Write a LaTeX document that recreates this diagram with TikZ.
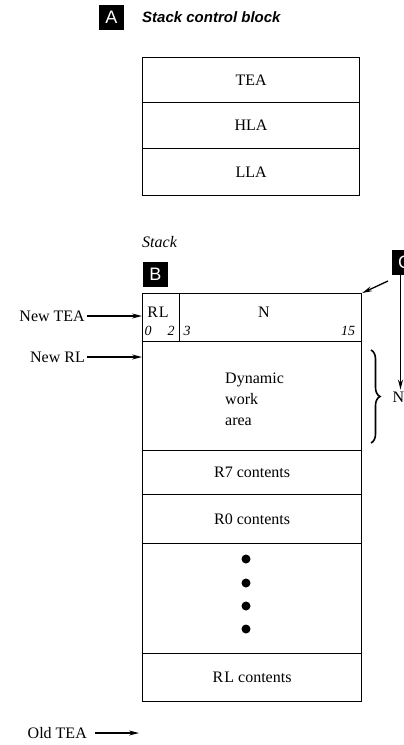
\documentclass[tikz,border=0pt]{standalone}
\usepackage{fontspec}
\setmainfont{Liberation Serif}
\setsansfont{Liberation Sans}
\usetikzlibrary{arrows.meta,decorations.pathreplacing}
\begin{document}
\begin{tikzpicture}[x=1pt,y=-1pt,
  cell/.style={draw, line width=1.2pt, inner sep=0pt, anchor=north west, font=\fontsize{16}{19}\selectfont},
  lbl/.style={inner sep=2pt, font=\fontsize{16}{19}\selectfont},
  bitno/.style={inner sep=0pt, font=\itshape\fontsize{14}{16}\selectfont},
  tag/.style={fill=black, text=white, font=\sffamily\fontsize{18}{18}\selectfont, minimum size=25pt, inner sep=0pt},
  arr/.style={-{Stealth[length=10pt,width=5pt]}, line width=1.3pt},
  dot/.style={circle, fill=black, minimum size=9pt, inner sep=0pt},
]
\useasboundingbox (0,0) rectangle (404,745);

% Part A
\node[tag] (tagA) at (111.5,17) {A};
\node[anchor=west, inner sep=0pt, font=\sffamily\bfseries\itshape\fontsize{15}{18}\selectfont] (titleA) at (142,17) {Stack control block};

\node[cell, minimum width=217pt, minimum height=45pt] (tea) at (142,57) {TEA};
\node[cell, minimum width=217pt, minimum height=46pt] (hla) at (142,102) {HLA};
\node[cell, minimum width=217pt, minimum height=47pt] (lla) at (142,148) {LLA};

% Stack label and B, C
\node[anchor=west, inner sep=0pt, font=\itshape\fontsize{16}{19}\selectfont] (stacklbl) at (142,242) {Stack};
\node[tag] (tagB) at (155.5,274.5) {B};
\node[tag] (tagC) at (404.5,262) {C};

% Stack cells
\node[cell, minimum width=37pt, minimum height=48pt] (rl) at (142,293) {};
\node[cell, minimum width=182pt, minimum height=48pt] (ncell) at (179,293) {};
\node[cell, minimum width=219pt, minimum height=109pt] (dyn) at (142,341) {};
\node[cell, minimum width=219pt, minimum height=44pt] (r7) at (142,450) {R7 contents};
\node[cell, minimum width=219pt, minimum height=49pt] (r0) at (142,494) {R0 contents};
\node[cell, minimum width=219pt, minimum height=110pt] (dots) at (142,543) {};
\node[cell, minimum width=219pt, minimum height=48pt] (rlc) at (142,653) {R\kern1pt L contents};

% texts in first row
\node[lbl] (rltxt) at (158,312) {R\kern1pt L};
\node[lbl] (ntxt) at (264,312) {N};
\node[bitno] (b0) at (148,331) {0};
\node[bitno] (b2) at (171,331) {2};
\node[bitno] (b3) at (187,331) {3};
\node[bitno] (b15) at (348,331) {15};

% dynamic work area
\node[lbl, align=left, anchor=west, font=\fontsize{16}{21}\selectfont] (dyntxt) at (223,399) {Dynamic\\work\\area};

% dots
\node[dot] (d1) at (246,559) {};
\node[dot] (d2) at (246,583) {};
\node[dot] (d3) at (246,606) {};
\node[dot] (d4) at (246,629) {};

% left arrows
\node[lbl, anchor=east] (newtea) at (87,316) {New TEA};
\draw[arr] (newtea.east) -- (newtea.east -| rl.west);
\node[lbl, anchor=east] (newrl) at (87,357) {New RL};
\draw[arr] (newrl.east) -- (newrl.east -| dyn.west);
\node[lbl, anchor=east] (oldtea) at (89,733) {Old TEA};
\coordinate (oldend) at (139,733);
\draw[arr] ([xshift=6pt]oldtea.east) -- (oldend);

% C arrows
\coordinate (cfrom) at (388,281);
\draw[arr] (cfrom) -- (ncell.north east);
\node[lbl] (nlab) at (398.5,397) {N};
\coordinate (cdown) at (400.5,275);
\draw[arr] (cdown) -- (cdown |- nlab.north);

% brace
\coordinate (brt) at (371,350);
\coordinate (brb) at (371,443);
\draw[line width=1.6pt, decorate, decoration={brace, amplitude=9pt}] (brt) -- (brb);
\end{tikzpicture}
\end{document}
